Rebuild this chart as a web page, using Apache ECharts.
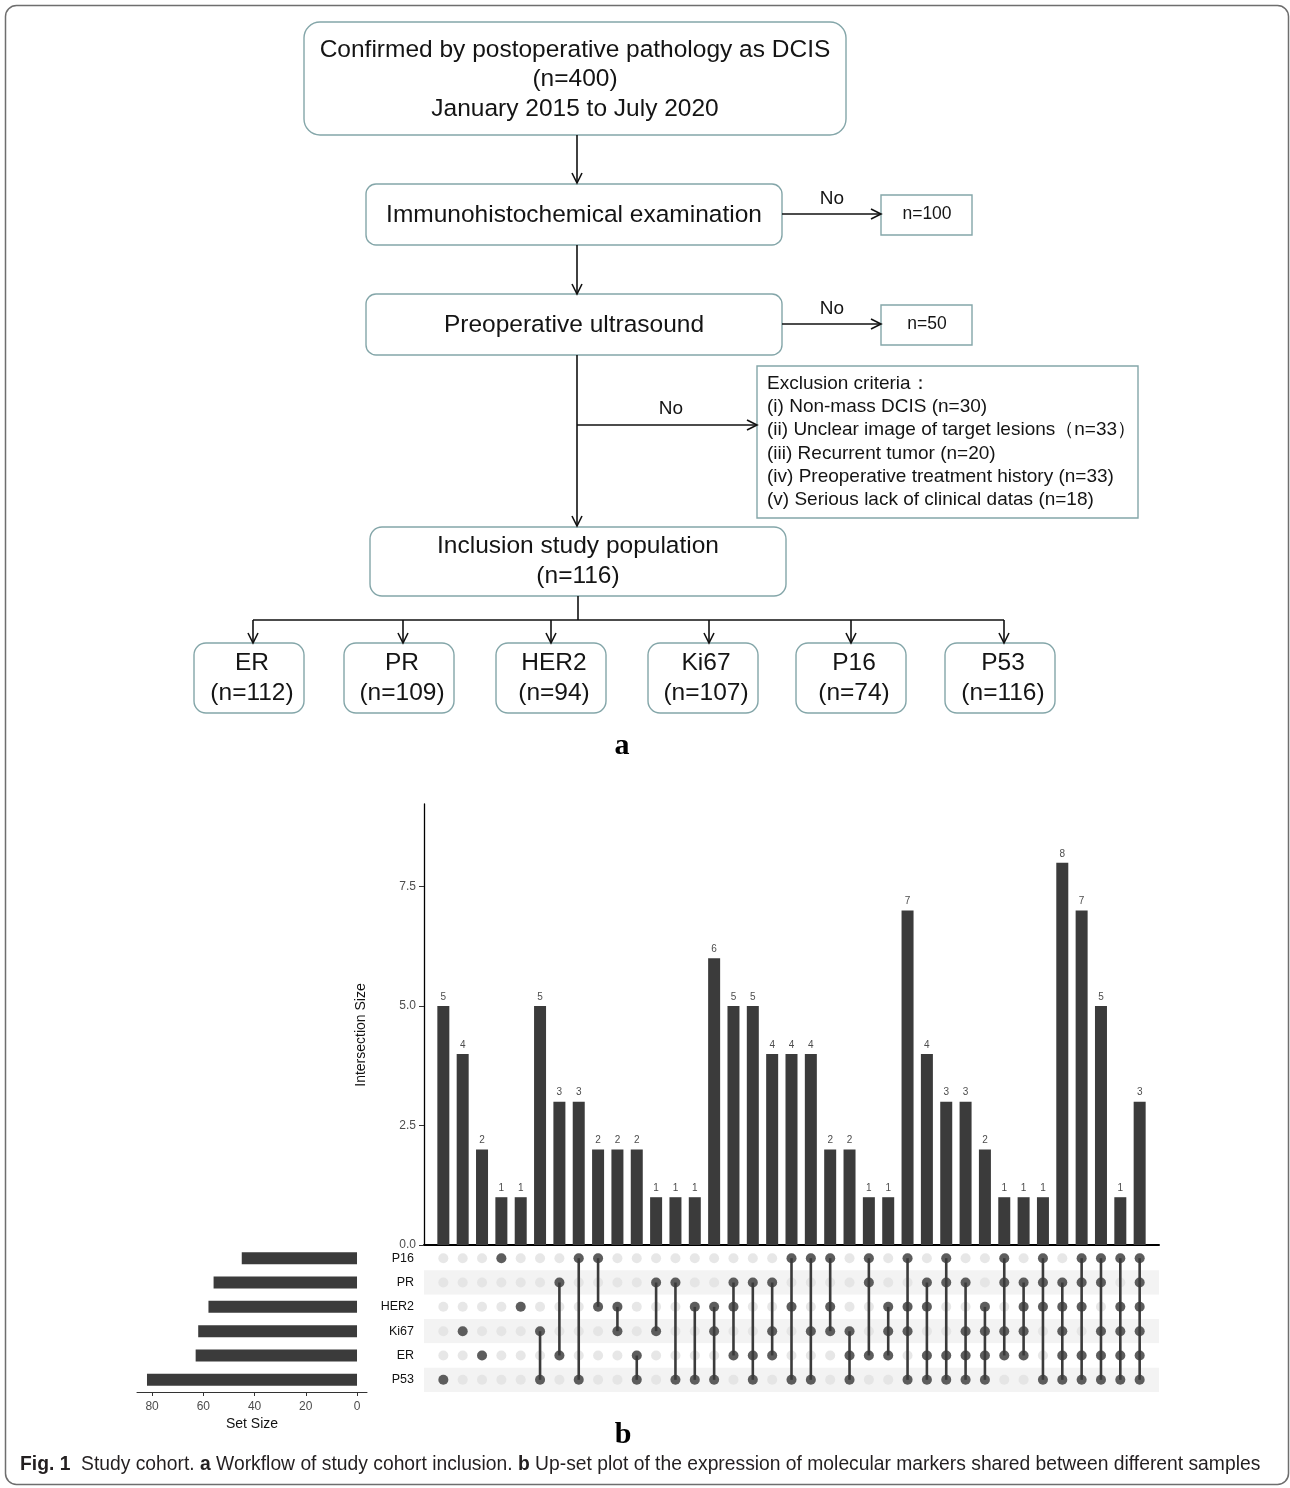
<!DOCTYPE html>
<html><head><meta charset="utf-8">
<script src="https://cdn.jsdelivr.net/npm/echarts@6/dist/echarts.min.js"></script>
<style>html,body{margin:0;padding:0;background:#fff}#c{width:1290px;height:1488px}</style>
</head><body><div id="c"></div>
<script>
// ---------------- DATA ----------------
// Upset plot (b)
const setNames = ['P16','PR','HER2','Ki67','ER','P53']; // top to bottom
const setSizes = [45,56,58,62,63,82];
const intersectionSizes = [5,4,2,1,1,5,3,3,2,2,2,1,1,1,6,5,5,4,4,4,2,2,1,1,7,4,3,3,2,1,1,1,8,7,5,1,3];
const intersectionSets = [
  ['P53'],['Ki67'],['ER'],['P16'],['HER2'],
  ['Ki67','P53'],['PR','ER'],['P16','P53'],['P16','HER2'],['HER2','Ki67'],['ER','P53'],['PR','Ki67'],['PR','P53'],['HER2','P53'],
  ['HER2','Ki67','P53'],['PR','HER2','ER'],['PR','ER','P53'],['PR','Ki67','ER'],['P16','HER2','P53'],['P16','Ki67','P53'],['P16','HER2','Ki67'],['Ki67','ER','P53'],['P16','PR','ER'],['HER2','Ki67','ER'],
  ['P16','HER2','Ki67','P53'],['PR','HER2','ER','P53'],['P16','PR','ER','P53'],['PR','Ki67','ER','P53'],['HER2','Ki67','ER','P53'],['P16','PR','Ki67','ER'],['PR','HER2','Ki67','ER'],['P16','PR','HER2','P53'],
  ['PR','HER2','Ki67','ER','P53'],['P16','PR','HER2','ER','P53'],['P16','PR','Ki67','ER','P53'],['P16','HER2','Ki67','ER','P53'],
  ['P16','PR','HER2','Ki67','ER','P53']
];
const intersectionTicks = [0,2.5,5,7.5];
const setSizeTicks = [0,20,40,60,80];

// Flowchart (a)
const topBoxLines = ['Confirmed by postoperative pathology as DCIS','(n=400)','January 2015 to July 2020'];
const stepLabels = ['Immunohistochemical examination','Preoperative ultrasound'];
const stepExcluded = ['n=100','n=50'];
const exclusionLines = ['Exclusion criteria：','(i) Non-mass DCIS (n=30)','(ii) Unclear image of target lesions（n=33）','(iii) Recurrent tumor (n=20)','(iv) Preoperative treatment history (n=33)','(v) Serious lack of clinical datas (n=18)'];
const inclusionLines = ['Inclusion study population','(n=116)'];
const markerNames = ['ER','PR','HER2','Ki67','P16','P53'];
const markerCounts = [112,109,94,107,74,116];
const captionText = '{b|Fig. 1}  Study cohort. {b|a} Workflow of study cohort inclusion. {b|b} Up-set plot of the expression of molecular markers shared between different samples';

// ---------------- BUILD ----------------
const FONT = '"Liberation Sans", Arial, Helvetica, sans-serif';
const DARK = '#3b3b3b';
const BOX = '#84a6a9';

const nCols = intersectionSizes.length;
const barData = intersectionSizes.map((v,i)=>[i+1,v]);
const grayDots = [];
const darkDots = [];
const links = [];
intersectionSets.forEach((sets,i)=>{
  const idx = sets.map(s=>setNames.indexOf(s));
  idx.forEach(r=>darkDots.push([i+1,r]));
  if (idx.length>1) links.push([i+1, Math.min(...idx), Math.max(...idx)]);
});
for (let i=1;i<=nCols;i++) for (let r=0;r<setNames.length;r++) grayDots.push([i,r]);

// flowchart graphic helpers
function T(x,y,text,size,extra){
  return {type:'text', silent:true, z:20, style:Object.assign({
    text:text, x:x, y:y, font:size+'px '+FONT, fill:'#141414',
    textAlign:'center', textVerticalAlign:'middle', align:'center', verticalAlign:'middle'
  }, extra||{})};
}
function R(x,y,w,h,r){
  return {type:'rect', silent:true, z:10, shape:{x:x,y:y,width:w,height:h,r:r}, style:{fill:'#fff', stroke:BOX, lineWidth:1.4}};
}
function L(x1,y1,x2,y2){
  return {type:'line', silent:true, z:12, shape:{x1:x1,y1:y1,x2:x2,y2:y2}, style:{stroke:'#111', lineWidth:1.6}};
}
function AD(x,y){ // arrow head pointing down, tip at (x,y)
  return {type:'polyline', silent:true, z:12, shape:{points:[[x-5,y-10],[x,y],[x+5,y-10]]}, style:{stroke:'#111', fill:null, lineWidth:1.6}};
}
function AR(x,y){ // arrow head pointing right
  return {type:'polyline', silent:true, z:12, shape:{points:[[x-10,y-5],[x,y],[x-10,y+5]]}, style:{stroke:'#111', fill:null, lineWidth:1.6}};
}

const g = [];
// outer frame
g.push({type:'rect', silent:true, z:1, shape:{x:5.5,y:5.5,width:1283,height:1479,r:11}, style:{fill:null, stroke:'#6e6e6e', lineWidth:1.5}});
// top box
g.push(R(304,22,542,113,16));
topBoxLines.forEach((t,i)=>g.push(T(575,50+i*29.5,t,24.5)));
g.push(L(577,135,577,183), AD(577,183));
// step boxes
const stepY = [184,294];
stepLabels.forEach((t,i)=>{
  const y0 = stepY[i];
  g.push(R(366,y0,416,61,10));
  g.push(T(574,y0+31,t,24.5));
  const ay = y0+30;
  g.push(L(782,ay,880,ay), AR(881,ay));
  g.push(T(832,ay-15,'No',19));
  g.push({type:'rect', silent:true, z:10, shape:{x:881,y:y0+11,width:91,height:40}, style:{fill:'#fff', stroke:BOX, lineWidth:1.4}});
  g.push(T(927,y0+30,stepExcluded[i],17.5));
});
g.push(L(577,245,577,294), AD(577,294));
g.push(L(577,355,577,526), AD(577,526));
g.push(L(577,425,756,425), AR(757,425));
g.push(T(671,409,'No',19));
// exclusion box
g.push({type:'rect', silent:true, z:10, shape:{x:757,y:366,width:381,height:152}, style:{fill:'#fff', stroke:BOX, lineWidth:1.4}});
exclusionLines.forEach((t,i)=>g.push(T(767,384+i*23.1,t,19,{textAlign:'left',align:'left'})));
// inclusion box
g.push(R(370,527,416,69,12));
inclusionLines.forEach((t,i)=>g.push(T(578,546+i*30,t,24.5)));
g.push(L(578,596,578,620));
const dropX = [253,403,551,709,851,1004];
const boxCX = [249,399,551,703,851,1000];
g.push(L(dropX[0],620,dropX[dropX.length-1],620));
markerNames.forEach((m,i)=>{
  g.push(L(dropX[i],620,dropX[i],642), AD(dropX[i],643));
  g.push(R(boxCX[i]-55,643,110,70,12));
  g.push(T(boxCX[i]+3,663,m,24.5));
  g.push(T(boxCX[i]+3,693,'(n='+markerCounts[i]+')',24.5));
});
// panel letters
g.push(T(622,746,'a',30,{font:'bold 30px "Liberation Serif", "Times New Roman", serif', fill:'#000'}));
g.push(T(623,1435,'b',30,{font:'bold 30px "Liberation Serif", "Times New Roman", serif', fill:'#000'}));
// y-axis title of the intersection bars
g.push({type:'text', silent:true, z:20, x:361, y:1035, rotation:Math.PI/2, style:{
  text:'Intersection Size', x:0, y:0, font:'14px '+FONT, fill:'#111',
  textAlign:'center', textVerticalAlign:'middle', align:'center', verticalAlign:'middle'}});
// caption
g.push({type:'text', silent:true, z:20, style:{
  text:captionText, x:20, y:1465, font:'19.3px '+FONT, fill:'#231f20',
  textAlign:'left', textVerticalAlign:'middle', align:'left', verticalAlign:'middle',
  rich:{b:{fontWeight:'bold', fontSize:19.3, fontFamily:FONT, fill:'#231f20'}}
}});

const chart = echarts.init(document.getElementById('c'), null, {renderer:'canvas'});
const option = {
  backgroundColor:'#fff',
  animation:false,
  textStyle:{fontFamily:FONT},
  graphic:{elements:g},
  grid:[
    {left:424, top:804, width:735, height:441, containLabel:false},
    {left:424, top:1246, width:735, height:146, containLabel:false},
    {left:137, top:1246, width:230, height:146, containLabel:false}
  ],
  xAxis:[
    {type:'value', gridIndex:0, min:0, max:nCols+1, axisLine:{show:true, onZero:false, lineStyle:{color:'#000', width:2}},
      axisTick:{show:false}, axisLabel:{show:false}, splitLine:{show:false}},
    {type:'value', gridIndex:1, min:0, max:nCols+1, show:false},
    {type:'value', gridIndex:2, inverse:true, min:-3.9, max:85.9,
      axisLine:{show:true, onZero:false, lineStyle:{color:'#333', width:1}},
      axisTick:{show:true, length:4, customValues:setSizeTicks, lineStyle:{color:'#333'}},
      axisLabel:{show:true, customValues:setSizeTicks, fontSize:12, color:'#4d4d4d', margin:9},
      splitLine:{show:false},
      name:'Set Size', nameLocation:'middle', nameGap:25, nameTextStyle:{fontSize:14, color:'#111'}}
  ],
  yAxis:[
    {type:'value', gridIndex:0, min:0, max:9.23,
      axisLine:{show:true, lineStyle:{color:'#000', width:1.3}},
      axisTick:{show:true, length:5, customValues:intersectionTicks, lineStyle:{color:'#333'}},
      axisLabel:{show:true, customValues:intersectionTicks, fontSize:12, color:'#4d4d4d', margin:8, formatter:v=>Number(v).toFixed(1)},
      splitLine:{show:false}},
    {type:'category', gridIndex:1, data:setNames, inverse:true,
      axisLine:{show:false}, axisTick:{show:false},
      axisLabel:{show:true, fontSize:12.5, color:'#111', margin:10},
      splitArea:{show:true, areaStyle:{color:['#ffffff','#f3f3f3']}}},
    {type:'category', gridIndex:2, data:setNames, inverse:true, show:false}
  ],
  series:[
    {type:'bar', xAxisIndex:0, yAxisIndex:0, data:barData, barWidth:12, itemStyle:{color:DARK},
      label:{show:true, position:'top', distance:4, fontSize:10, color:'#4d4d4d', formatter:p=>p.value[1]}},
    {type:'scatter', xAxisIndex:1, yAxisIndex:1, data:grayDots, symbolSize:10, itemStyle:{color:'#e1e1e1'}, z:2},
    {type:'custom', xAxisIndex:1, yAxisIndex:1, data:links, encode:{x:0,y:1}, z:3,
      renderItem:(params, api)=>{
        const x = api.value(0);
        const p1 = api.coord([x, api.value(1)]);
        const p2 = api.coord([x, api.value(2)]);
        return {type:'line', shape:{x1:p1[0],y1:p1[1],x2:p2[0],y2:p2[1]}, style:{stroke:DARK, lineWidth:2.6}};
      }},
    {type:'scatter', xAxisIndex:1, yAxisIndex:1, data:darkDots, symbolSize:10, itemStyle:{color:DARK}, z:4},
    {type:'bar', xAxisIndex:2, yAxisIndex:2, data:setSizes, barWidth:12, itemStyle:{color:DARK}}
  ]
};
chart.setOption(option);
</script>
</body></html>
